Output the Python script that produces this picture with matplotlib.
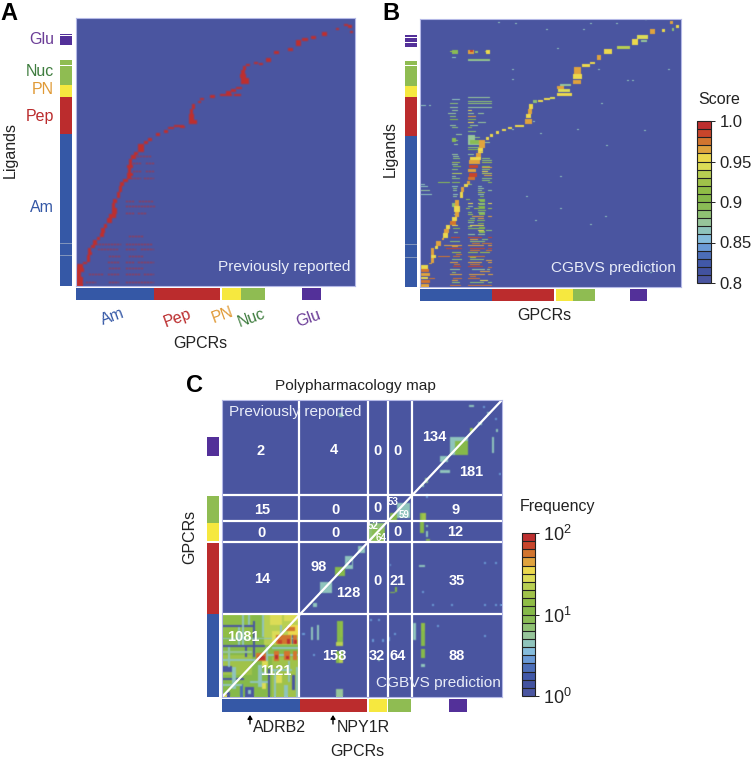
import numpy as np
import matplotlib
matplotlib.use("Agg")
import matplotlib.pyplot as plt
from matplotlib.colors import ListedColormap, Normalize, LogNorm
from matplotlib.cm import ScalarMappable

plt.rcParams['font.family'] = ['Liberation Sans', 'DejaVu Sans']
plt.rcParams['mathtext.fontset'] = 'custom'
plt.rcParams['mathtext.rm'] = 'Liberation Sans'
plt.rcParams['mathtext.default'] = 'regular'

# ---------- colours of the 20 step scale, low to high
scale_colors = ['#4a55a0', '#42529f', '#4158a8', '#4c6eb8', '#6a9ad6', '#85bcdc', '#8fc4bc', '#97c59a',
                '#8fc173', '#8abc55', '#86b94a', '#8fbd46', '#a0c24a', '#b8cf52', '#dcdc56', '#ecd84d',
                '#e0a33e', '#d2752f', '#c8452b', '#bd2f2f']
family_colors = {'Am': '#3558a6', 'Pep': '#bb2c2d', 'PN': '#f6e83f', 'Nuc': '#8fbc52', 'Glu': '#533099'}
label_colors = {'Am': '#3558a6', 'Pep': '#bb2c2d', 'PN': '#e09a37', 'Nuc': '#3f7d3f', 'Glu': '#6b3d97'}
family_names = ['Am', 'Pep', 'PN', 'Nuc', 'Glu']

# ---------- panel A, cell grid GPCR x ligand
a_shape = (268, 279)
a_path = [(0, 7, 0, 9), (0, 5, 9, 14), (0, 8, 14, 18), (1, 7, 18, 22), (7, 11, 22, 24), (11, 14, 24, 31), (12, 16, 31, 34),
          (12, 15, 34, 38), (15, 19, 38, 41), (17, 21, 41, 46), (21, 24, 46, 49), (24, 28, 49, 53), (25, 29, 53, 58),
          (28, 31, 58, 62), (31, 36, 63, 68), (33, 40, 68, 72), (36, 41, 72, 78), (36, 39, 78, 83), (37, 41, 83, 87),
          (41, 44, 88, 94), (43, 46, 94, 100), (44, 48, 100, 104), (47, 52, 104, 107), (51, 55, 107, 110), (51, 57, 110, 113),
          (52, 55, 113, 118), (51, 57, 118, 121), (53, 56, 121, 127), (55, 60, 127, 131), (58, 62, 131, 134), (62, 68, 134, 142),
          (68, 72, 142, 145), (72, 76, 145, 148), (80, 84, 150, 153), (88, 92, 153, 156), (92, 98, 157, 159), (98, 108, 159, 161),
          (104, 109, 158, 160), (113, 121, 162, 166), (113, 118, 166, 172), (114, 117, 172, 177), (116, 119, 177, 182),
          (122, 125, 183, 185), (124, 128, 186, 188), (134, 139, 188, 191), (144, 150, 190, 192), (150, 155, 192, 195),
          (148, 156, 190, 192), (155, 160, 194, 197), (158, 165, 190, 192), (160, 166, 197, 199), (165, 173, 202, 208),
          (164, 170, 208, 212), (165, 169, 212, 216), (167, 170, 216, 220), (170, 174, 220, 222), (178, 182, 222, 224),
          (183, 187, 221, 223), (190, 195, 224, 228), (198, 203, 232, 235), (212, 217, 235, 238), (220, 225, 240, 246),
          (226, 232, 245, 248), (235, 240, 247, 250), (246, 251, 250, 254), (260, 263, 256, 258), (268, 272, 260, 262),
          (272, 276, 258, 261), (274, 277, 253, 255)]
a_streak_rows = [3, 11, 17, 23, 29, 36, 41, 49, 72, 79, 84, 107, 114, 122, 129]
a_streak_cols = [[(10, 20), (33, 43), (50, 78)], [(13, 28), (32, 43), (50, 65), (68, 78)], [(33, 45), (50, 67)],
                 [(32, 43), (50, 58), (62, 78)], [(33, 45), (53, 67)], [(22, 43), (50, 60), (65, 78)], [(20, 45), (50, 77)],
                 [(53, 67)], [(50, 58), (62, 70)], [(50, 80)], [(50, 58), (63, 78)], [(52, 65), (68, 78)], [(57, 66), (70, 78)],
                 [(57, 66), (70, 78)], [(58, 75)]]

# ---------- panel B, cell grid GPCR x ligand, score per block
b_shape = (268, 261)
b_path = [(1, 9, 0, 3, 0.96), (1, 10, 4, 7, 0.97), (1, 8, 8, 10, 0.95), (1, 10, 11, 14, 0.96), (1, 9, 15, 18, 0.97),
          (1, 8, 18, 22, 0.95), (9, 12, 23, 24, 0.96), (11, 14, 24, 29, 0.96), (11, 16, 29, 32, 0.95), (11, 14, 32, 39, 0.96),
          (15, 18, 38, 41, 0.95), (16, 21, 41, 46, 0.96), (22, 24, 47, 49, 0.96), (23, 28, 49, 54, 0.95), (24, 29, 54, 58, 0.96),
          (26, 30, 58, 62, 0.95), (30, 36, 62, 66, 0.97), (32, 37, 66, 70, 0.95), (35, 39, 70, 75, 0.96), (34, 40, 75, 81, 0.95),
          (35, 39, 81, 87, 0.96), (40, 43, 89, 95, 0.95), (41, 44, 95, 100, 0.96), (44, 48, 100, 103, 0.95), (47, 50, 103, 106, 0.96),
          (48, 55, 107, 110, 0.97), (49, 57, 110, 114, 0.98), (48, 56, 115, 118, 0.96), (49, 58, 119, 122, 0.98), (49, 60, 123, 127, 0.96),
          (50, 61, 127, 130, 0.95), (56, 61, 130, 134, 0.96), (58, 63, 134, 138, 0.95), (59, 65, 138, 146, 0.96), (66, 69, 146, 149, 0.95),
          (70, 73, 149, 152, 0.95), (76, 79, 152, 155, 0.95), (82, 86, 155, 157, 0.95), (88, 92, 157, 159, 0.95), (95, 104, 159, 161, 0.95),
          (105, 112, 162, 167, 0.96), (106, 111, 168, 172, 0.95), (108, 112, 172, 177, 0.96), (109, 113, 177, 182, 0.95),
          (113, 117, 183, 186, 0.88), (118, 123, 184, 186, 0.95), (124, 130, 186, 188, 0.95), (130, 135, 187, 189, 0.94),
          (137, 152, 190, 193, 0.95), (138, 150, 194, 197, 0.94), (137, 144, 197, 200, 0.96), (140, 151, 200, 202, 0.87),
          (153, 161, 202, 206, 0.96), (153, 162, 207, 212, 0.95), (154, 161, 212, 219, 0.96), (162, 170, 219, 222, 0.95),
          (170, 175, 222, 224, 0.95), (177, 181, 226, 231, 0.96), (184, 192, 232, 237, 0.95), (197, 210, 237, 240, 0.93),
          (212, 218, 241, 247, 0.95), (217, 228, 247, 251, 0.94), (221, 227, 244, 246, 0.87), (230, 235, 252, 257, 0.96),
          (242, 245, 254, 257, 0.95), (250, 253, 262, 265, 0.96), (256, 259, 258, 261, 0.95), (252, 254, 255, 258, 0.88)]
b_band_rows = [1, 4, 8, 12, 17, 20, 24, 27, 30, 34, 38, 41, 45, 49, 52, 58, 61, 66, 70, 74, 78, 83, 87, 92, 96, 100, 104,
               108, 113, 117, 120, 124, 128, 132, 138, 141, 145, 160, 166, 172, 178, 182, 234, 225]
b_band_cols = [[(30, 41), (48, 58), (58, 72)], [(32, 40), (50, 64), (68, 72)], [(9, 15), (33, 42), (48, 60)], [(30, 42), (49, 65), (68, 73)],
               [(30, 40), (52, 65), (67, 70)], [(33, 41), (48, 63)], [(30, 38), (48, 62), (68, 72)], [(32, 42), (50, 64)], [(18, 30), (33, 40), (48, 65)],
               [(32, 41), (48, 58), (60, 70)], [(26, 30), (30, 42), (50, 65), (68, 72)], [(24, 42), (48, 64), (68, 72)], [(30, 40), (50, 65)],
               [(31, 40), (48, 62), (68, 72)], [(48, 55), (58, 65)], [(33, 40), (48, 60)], [(32, 38), (50, 64)], [(48, 55), (57, 65)],
               [(52, 64), (68, 72)], [(48, 52), (58, 65)], [(46, 50), (54, 64), (68, 72)], [(48, 53), (58, 65), (68, 72)], [(46, 50), (58, 64)],
               [(0, 12), (33, 38), (58, 64)], [(0, 10), (33, 37), (58, 62), (68, 72)], [(0, 8), (32, 38), (58, 62)], [(18, 30), (32, 40), (68, 72)],
               [(32, 40), (62, 72)], [(32, 42), (62, 72)], [(32, 38), (62, 70)], [(33, 41), (62, 70)], [(32, 40), (62, 72)], [(33, 40), (62, 70)],
               [(32, 38), (48, 54)], [(48, 62)], [(34, 38), (48, 60)], [(33, 38), (48, 62)], [(30, 36), (50, 58)], [(30, 38), (48, 56)],
               [(28, 36), (48, 54), (58, 64)], [(30, 38), (48, 72)], [(30, 38), (48, 72)], [(30, 38), (48, 54), (65, 70)], [(48, 70)]]
b_band_scores = [0.97, 0.88, 0.97, 0.96, 0.87, 0.98, 0.96, 0.88, 0.97, 0.92, 0.98, 0.96, 0.88, 0.98, 0.87, 0.89, 0.95, 0.89, 0.96,
                 0.88, 0.92, 0.95, 0.89, 0.86, 0.87, 0.86, 0.89, 0.88, 0.93, 0.88, 0.89, 0.92, 0.88, 0.87, 0.88, 0.87, 0.88, 0.87,
                 0.9, 0.87, 0.87, 0.88, 0.92, 0.87]
# row, first cell, last cell, score of short extra dashes
b_dashes = [(6, 32, 38, 0.96), (6, 60, 68, 0.95), (10, 50, 56, 0.97), (14, 32, 36, 0.88), (15, 60, 70, 0.96), (19, 68, 72, 0.97),
            (22, 34, 40, 0.97), (22, 50, 60, 0.97), (26, 66, 72, 0.96), (29, 50, 56, 0.92), (32, 36, 42, 0.97), (36, 50, 60, 0.97),
            (36, 66, 72, 0.97), (40, 32, 38, 0.96), (43, 52, 60, 0.97), (43, 62, 72, 0.97), (47, 50, 58, 0.96), (47, 62, 68, 0.88),
            (54, 34, 38, 0.87), (56, 58, 64, 0.95), (56, 66, 72, 0.88), (60, 48, 52, 0.88), (63, 58, 64, 0.9), (64, 48, 54, 0.87),
            (68, 50, 55, 0.88), (68, 58, 64, 0.96), (72, 34, 38, 0.87), (72, 48, 53, 0.92), (76, 58, 66, 0.89), (80, 48, 53, 0.87),
            (80, 58, 65, 0.9), (85, 60, 65, 0.9), (90, 33, 37, 0.87), (90, 60, 64, 0.89), (94, 58, 65, 0.92), (98, 33, 37, 0.88),
            (98, 58, 64, 0.87), (102, 0, 5, 0.86), (102, 48, 52, 0.88), (106, 62, 70, 0.88), (110, 32, 36, 0.87), (111, 64, 72, 0.96),
            (115, 62, 68, 0.95), (119, 62, 72, 0.96), (122, 32, 38, 0.87), (126, 62, 72, 0.88), (130, 33, 39, 0.87), (136, 48, 58, 0.9),
            (143, 62, 70, 0.87), (148, 48, 60, 0.88), (151, 36, 42, 0.87), (154, 48, 56, 0.88), (158, 32, 38, 0.88), (158, 48, 52, 0.9),
            (163, 48, 54, 0.95), (163, 58, 66, 0.87), (169, 30, 36, 0.88), (169, 48, 56, 0.96), (175, 32, 38, 0.87), (175, 48, 52, 0.95),
            (180, 0, 6, 0.86), (184, 48, 72, 0.88), (186, 32, 40, 0.86), (188, 48, 70, 0.87), (226, 48, 70, 0.88), (228, 32, 36, 0.86)]
b_green_blocks = [(32, 36, 144, 148, 0.89), (48, 55, 141, 151, 0.87), (50, 62, 142, 146, 0.89), (32, 38, 232, 236, 0.89),
                  (48, 54, 232, 236, 0.96), (50, 53, 234, 236, 0.98), (55, 58, 233, 235, 0.88), (66, 70, 232, 236, 0.95),
                  (32, 37, 80, 84, 0.88), (59, 65, 86, 88, 0.89), (59, 65, 82, 84, 0.88), (59, 65, 78, 80, 0.9), (59, 65, 72, 74, 0.89),
                  (59, 65, 58, 60, 0.9), (59, 65, 54, 56, 0.89)]
b_dot_cells = [(137, 237), (92, 216), (92, 206), (126, 256), (178, 216), (92, 156), (113, 164), (120, 152), (157, 156), (181, 182),
               (212, 205), (140, 110), (185, 70), (140, 78), (106, 90), (115, 66), (170, 62), (186, 140), (207, 205), (224, 155),
               (230, 14), (95, 262), (78, 263), (170, 262), (248, 216), (4, 180), (9, 180), (1, 180), (163, 256), (196, 262), (225, 266)]

# ---------- panel C, cell grid GPCR x GPCR, frequency per block
c_shape = (297, 280)
c_am_base = [(0, 77, 0, 83, 11), (42, 77, 52, 83, 20), (50, 77, 0, 40, 16), (0, 30, 60, 83, 15), (0, 30, 22, 42, 16)]
c_am_blocks = [(0, 33, 70, 72, 1), (31, 33, 40, 76, 1), (0, 43, 50, 52, 1), (23, 25, 40, 50, 1), (70, 72, 53, 70, 1),
               (0, 10, 25, 31, 1), (46, 48, 0, 28, 1), (70, 73, 7, 22, 1), (23, 32, 0, 10, 1), (26, 29, 3, 7, 4),
               (0, 22, 17, 19, 1), (4, 8, 0, 5, 1), (18, 21, 0, 13, 2), (58, 60, 60, 83, 4), (0, 77, 58, 59, 4),
               (20, 22, 52, 83, 4), (0, 46, 36, 38, 4), (35, 77, 41, 43, 4), (10, 14, 8, 30, 4), (36, 40, 10, 32, 4),
               (50, 70, 26, 28, 4), (38, 44, 22, 25, 4), (62, 66, 0, 12, 4), (6, 8, 30, 50, 5), (16, 18, 52, 70, 5),
               (26, 28, 72, 83, 4), (40, 42, 60, 83, 5), (44, 46, 30, 50, 5), (0, 30, 44, 46, 6), (52, 54, 0, 26, 5),
               (66, 68, 15, 36, 5), (28, 46, 14, 16, 5), (50, 77, 48, 50, 5), (0, 20, 11, 13, 5), (74, 76, 0, 30, 5),
               (48, 60, 72, 83, 28), (62, 77, 76, 83, 30), (50, 58, 55, 66, 30), (66, 77, 62, 72, 32),
               (54, 62, 53, 62, 60), (62, 69, 53, 62, 60), (71, 75, 53, 62, 60), (65, 68, 53, 58, 90), (56, 60, 53, 57, 70), (72, 75, 53, 57, 90),
               (64, 73, 66, 70, 60), (34, 44, 36, 44, 60), (36, 43, 37, 41, 90), (52, 57, 36, 46, 60), (62, 68, 37, 46, 60), (71, 75, 37, 46, 60),
               (53, 56, 38, 42, 90), (64, 67, 38, 41, 90), (40, 46, 30, 36, 28), (54, 60, 14, 22, 28), (0, 5, 0, 3, 28), (40, 44, 8, 14, 28)]
c_blocks = [(228, 246, 242, 260, 4), (233, 246, 242, 256, 12), (236, 246, 256, 260, 5), (218, 226, 235, 241, 4), (218, 228, 224, 227, 4),
            (270, 272, 244, 260, 4), (247, 252, 290, 292, 4), (274, 276, 265, 268, 4), (248, 251, 265, 269, 14), (256, 260, 272, 275, 4),
            (265, 268, 283, 285, 4), (261, 263, 289, 291, 3), (273, 275, 277, 279, 3), (203, 206, 214, 219, 6), (200, 202, 210, 213, 4),
            (277, 279, 222, 224, 3), (204, 206, 199, 203, 3), (117, 121, 280, 284, 5),
            (113, 123, 121, 130, 12), (123, 131, 128, 141, 4), (126, 130, 132, 136, 1), (136, 143, 144, 151, 4), (98, 110, 104, 115, 5),
            (91, 95, 90, 94, 4), (168, 173, 104, 105, 10), (173, 175, 105, 110, 10), (168, 169, 131, 133, 3),
            (146, 163, 155, 174, 7), (150, 163, 155, 168, 9), (168, 175, 175, 184, 12), (175, 188, 179, 194, 5), (180, 186, 184, 194, 4),
            (198, 202, 164, 184, 10), (200, 204, 176, 184, 18), (204, 208, 156, 158, 12), (204, 206, 160, 166, 4), (204, 206, 170, 172, 4),
            (262, 264, 133, 135, 3), (273, 275, 133, 135, 3), (210, 212, 91, 93, 3), (229, 231, 91, 93, 3), (262, 264, 91, 93, 3), (273, 275, 91, 93, 3),
            (278, 280, 91, 93, 3), (200, 202, 104, 106, 3), (197, 203, 130, 132, 4), (262, 264, 60, 62, 3),
            (199, 203, 51, 74, 10), (199, 203, 66, 74, 14), (199, 203, 39, 48, 10), (191, 194, 57, 74, 4), (199, 203, 30, 33, 4), (215, 217, 70, 72, 3),
            (115, 121, 51, 76, 10), (118, 121, 60, 76, 14), (114, 121, 51, 55, 22), (114, 121, 34, 46, 12), (117, 121, 34, 40, 25), (114, 121, 0, 8, 6),
            (89, 91, 57, 70, 4), (95, 97, 57, 72, 4), (80, 83, 62, 64, 3), (91, 93, 41, 43, 3), (148, 150, 76, 78, 3), (156, 158, 76, 78, 3),
            (150, 152, 55, 58, 3), (160, 162, 55, 58, 3), (166, 168, 56, 60, 3), (156, 158, 36, 38, 4), (172, 174, 62, 64, 3)]
c_diagonal = [0, 1]
c_splits_x = [77, 146, 166, 190]
c_splits_y = [83, 155, 176, 202]

# ---------- family strips: start, end
a_bottom = [(0, 78), (78, 144), (146, 165), (165, 189), (226, 245)]
a_left = [[(0, 151.7)], [(151.7, 189)], [(189.5, 201)], [(201, 220), (220.8, 225.7)], [(240.7, 250), (250.8, 252)]]
b_bottom = [(0, 72), (72, 134), (136, 153), (153, 175), (210, 227)]
b_left = [[(0, 151)], [(151, 190)], [(190, 201)], [(201, 221), (221.8, 226)], [(240, 244), (244.8, 249), (249.8, 252), (252.8, 253)]]
c_bottom = [(0, 78), (78, 145), (147, 165), (166, 189), (227, 245)]
c_left = [[(0, 83)], [(83, 154)], [(156, 174)], [(174, 201)], [(241, 260)]]
a_left_marks = [31, 43]
b_left_marks = [30, 43]

# ---------- cell numbers of panel C: label, centre in pixels, size
c_numbers = [('2', 261, 451, 10.5), ('4', 334, 450, 10.5), ('0', 377, 451, 10.5), ('0', 398, 451, 10.5), ('134', 434, 437, 10.5), ('181', 471, 472, 10.5),
             ('15', 262, 510, 10.5), ('0', 335, 510, 10.5), ('0', 377, 508, 10.5), ('53', 393, 502, 7), ('59', 404, 515, 7), ('9', 456, 510, 10.5),
             ('0', 262, 533, 10.5), ('0', 335, 533, 10.5), ('52', 373, 526, 7), ('64', 381, 538, 7), ('0', 398, 532, 10.5), ('12', 455, 532, 10.5),
             ('14', 262, 579, 10.5), ('98', 319, 567, 10.5), ('128', 348, 593, 10.5), ('0', 377, 581, 10.5), ('21', 398, 581, 10.5), ('35', 457, 581, 10.5),
             ('1081', 243, 637, 10.5), ('1121', 276, 671, 10.5), ('158', 334, 656, 10.5), ('32', 377, 656, 10.5), ('64', 398, 656, 10.5), ('88', 457, 656, 10.5)]

W, H = 751, 761
fig = plt.figure(figsize=(W / 100, H / 100), dpi=100, facecolor='white')
cmap = ListedColormap(scale_colors)


def px_axes(x0, y0, x1, y1):
    return fig.add_axes([x0 / W, 1 - y1 / H, (x1 - x0) / W, (y1 - y0) / H])


def label(x, y, s, size=11, **kw):
    kw.setdefault('ha', 'center')
    kw.setdefault('va', 'center')
    fig.text(x / W, 1 - y / H, s, fontsize=size, **kw)


def show(ax, M, norm, soft):
    rgba = cmap(norm(M))
    kernel = np.array(soft, float) / sum(soft)
    for axis in (0, 1):
        rgba = np.apply_along_axis(lambda v: np.convolve(v, kernel, mode='same'), axis, rgba)
    rgba[:, :, 3] = 1.0
    rgba[[0, -1], :, :3] = cmap(norm(M))[[0, -1], :, :3]
    rgba[:, [0, -1], :3] = cmap(norm(M))[:, [0, -1], :3]
    ax.imshow(rgba, origin='lower', aspect='auto', interpolation='nearest', extent=(0, M.shape[1], 0, M.shape[0]))
    ax.set_xticks([])
    ax.set_yticks([])
    for s in ax.spines.values():
        s.set_color('#b4b8e6')
        s.set_linewidth(0.8)


def strip_bottom(box, spans, xlim):
    ax = px_axes(*box)
    for name, sp in zip(family_names, spans):
        ax.broken_barh([(sp[0], sp[1] - sp[0])], (0, 1), facecolor=family_colors[name], edgecolor='none')
    ax.set_xlim(0, xlim)
    ax.set_ylim(0, 1)
    ax.axis('off')


def strip_left_v(box, spans, ylim, marks=()):
    ax = px_axes(*box)
    for name, parts in zip(family_names, spans):
        for p in parts:
            ax.bar(0.5, p[1] - p[0], width=1, bottom=p[0], color=family_colors[name], linewidth=0)
    for m in marks:
        ax.axhline(m, color='#8fa0c0', lw=0.6)
    ax.set_xlim(0, 1)
    ax.set_ylim(0, ylim)
    ax.axis('off')


# ---------- panel A
A = np.full(a_shape, 0.8)
for row, segs in zip(a_streak_rows, a_streak_cols):
    for c0, c1 in segs:
        A[row, c0:c1:3] = 1.0
        A[row, c0 + 1:c1:3] = 1.0
for c0, c1, r0, r1 in a_path:
    A[r0:r1, c0:c1] = 1.0
ax = px_axes(76, 18, 355, 286)
show(ax, A, Normalize(0.8, 1.0), [1, 2, 1])
strip_bottom((76, 288, 355, 300), a_bottom, a_shape[1])
strip_left_v((60, 18, 72, 286), a_left, a_shape[0], a_left_marks)

# ---------- panel B
nudge = 0.002
B = np.full(b_shape, 0.8)
for row, segs, score in zip(b_band_rows, b_band_cols, b_band_scores):
    for c0, c1 in segs:
        B[row, c0:c1] = score + nudge
for row, c0, c1, score in b_dashes:
    B[row, c0:c1] = score + nudge
for c0, c1, r0, r1, v in b_green_blocks:
    B[r0:r1, c0:c1] = v + nudge
for c, r in b_dot_cells:
    B[r:r + 1, c:c + 2] = 0.86 + nudge
for c0, c1, r0, r1, v in b_path:
    B[r0:r1, c0:c1] = v + nudge
ax = px_axes(420, 19, 681, 287)
show(ax, B, Normalize(0.8, 1.0), [1, 5, 1])
strip_bottom((420, 289, 681, 301), b_bottom, b_shape[1])
strip_left_v((405, 19, 417, 287), b_left, b_shape[0], b_left_marks)

# ---------- panel C
Cm = np.full(c_shape, 1.0)
for c0, c1, r0, r1, v in c_am_base + c_am_blocks + c_blocks:
    Cm[r0:r1, c0:c1] = v
ax = px_axes(222, 400, 502, 697)
show(ax, Cm, LogNorm(1, 100), [1, 3, 1])
for v in c_splits_x:
    ax.axvline(v, color='white', lw=1.6)
for v in c_splits_y:
    ax.axhline(v, color='white', lw=1.6)
ax.plot(np.array(c_diagonal) * c_shape[1], np.array(c_diagonal) * c_shape[0], color='white', lw=1.6)
ax.set_xlim(0, c_shape[1])
ax.set_ylim(0, c_shape[0])
strip_bottom((222, 699, 502, 712), c_bottom, c_shape[1])
strip_left_v((207, 400, 219, 697), c_left, c_shape[0])

# ---------- colour bars
cax = px_axes(697, 121, 711, 283)
cb = fig.colorbar(ScalarMappable(Normalize(0.8, 1.0), cmap), cax=cax, drawedges=True)
cb.dividers.set_color('#222222')
cb.dividers.set_linewidth(0.8)
cb.outline.set_edgecolor('#222222')
cb.outline.set_linewidth(0.8)
cb.set_ticks([0.8, 0.85, 0.9, 0.95, 1.0], labels=['0.8', '0.85', '0.9', '0.95', '1.0'])
cb.ax.tick_params(length=3, width=0.7, labelsize=12, pad=3, colors='#222222')

cax = px_axes(522, 533, 535, 696)
cb = fig.colorbar(ScalarMappable(LogNorm(1, 100), cmap), cax=cax, drawedges=True)
cb.dividers.set_color('#222222')
cb.dividers.set_linewidth(0.8)
cb.outline.set_edgecolor('#222222')
cb.outline.set_linewidth(0.8)
cb.set_ticks([1, 10, 100], labels=['$10^{0}$', '$10^{1}$', '$10^{2}$'])
cb.ax.minorticks_off()
cb.ax.tick_params(length=3, width=0.7, labelsize=13, pad=3, colors='#222222')

# ---------- text
ink = '#222222'
pale = '#e8ecf8'
label(9, 13, 'A', 17, fontweight='bold', color='black')
label(391, 13, 'B', 17, fontweight='bold', color='black')
label(194, 386, 'C', 17, fontweight='bold', color='black')
for name, y in zip(['Glu', 'Nuc', 'PN', 'Pep', 'Am'], [39, 72, 90, 117, 208]):
    label(54, y, name, 11.5, ha='right', color=label_colors[name])
for name, x, y in zip(['Am', 'Pep', 'PN', 'Nuc', 'Glu'], [113, 178, 223, 251, 308], [317, 318, 315, 318, 318]):
    label(x, y, name, 11.5, rotation=20, color=label_colors[name])
label(10, 150, 'Ligands', 11.5, rotation=90, color=ink)
label(200, 343, 'GPCRs', 11.5, color=ink)
label(350, 267, 'Previously reported', 11.1, ha='right', color=pale)
label(390, 149, 'Ligands', 11.5, rotation=90, color=ink)
label(544, 316, 'GPCRs', 11.5, color=ink)
label(676, 268, 'CGBVS prediction', 11.1, ha='right', color=pale)
label(698, 100, 'Score', 11.5, ha='left', color=ink)
label(520, 507, 'Frequency', 11.5, ha='left', color=ink)
label(355, 386, 'Polypharmacology map', 11.1, color=ink)
label(190, 537, 'GPCRs', 11.5, rotation=90, color=ink)
label(357, 752, 'GPCRs', 11.5, color=ink)
label(253, 728, 'ADRB2', 11.5, ha='left', color=ink)
label(337, 728, 'NPY1R', 11.5, ha='left', color=ink)
label(295, 412, 'Previously reported', 11.1, color=pale)
label(501, 683, 'CGBVS prediction', 11.1, ha='right', color=pale)
for s, x, y, size in c_numbers:
    label(x, y, s, size, color='white', fontweight='bold')
for x in (250, 333):
    fig.add_artist(plt.Annotation('', xy=(x / W, 1 - 715 / H), xytext=(x / W, 1 - 724 / H), xycoords='figure fraction',
                                  textcoords='figure fraction',
                                  arrowprops=dict(arrowstyle='-|>,head_width=0.14,head_length=0.22', color='black', lw=1, shrinkA=0, shrinkB=0)))

fig.savefig('out.png', dpi=100, facecolor='white')
